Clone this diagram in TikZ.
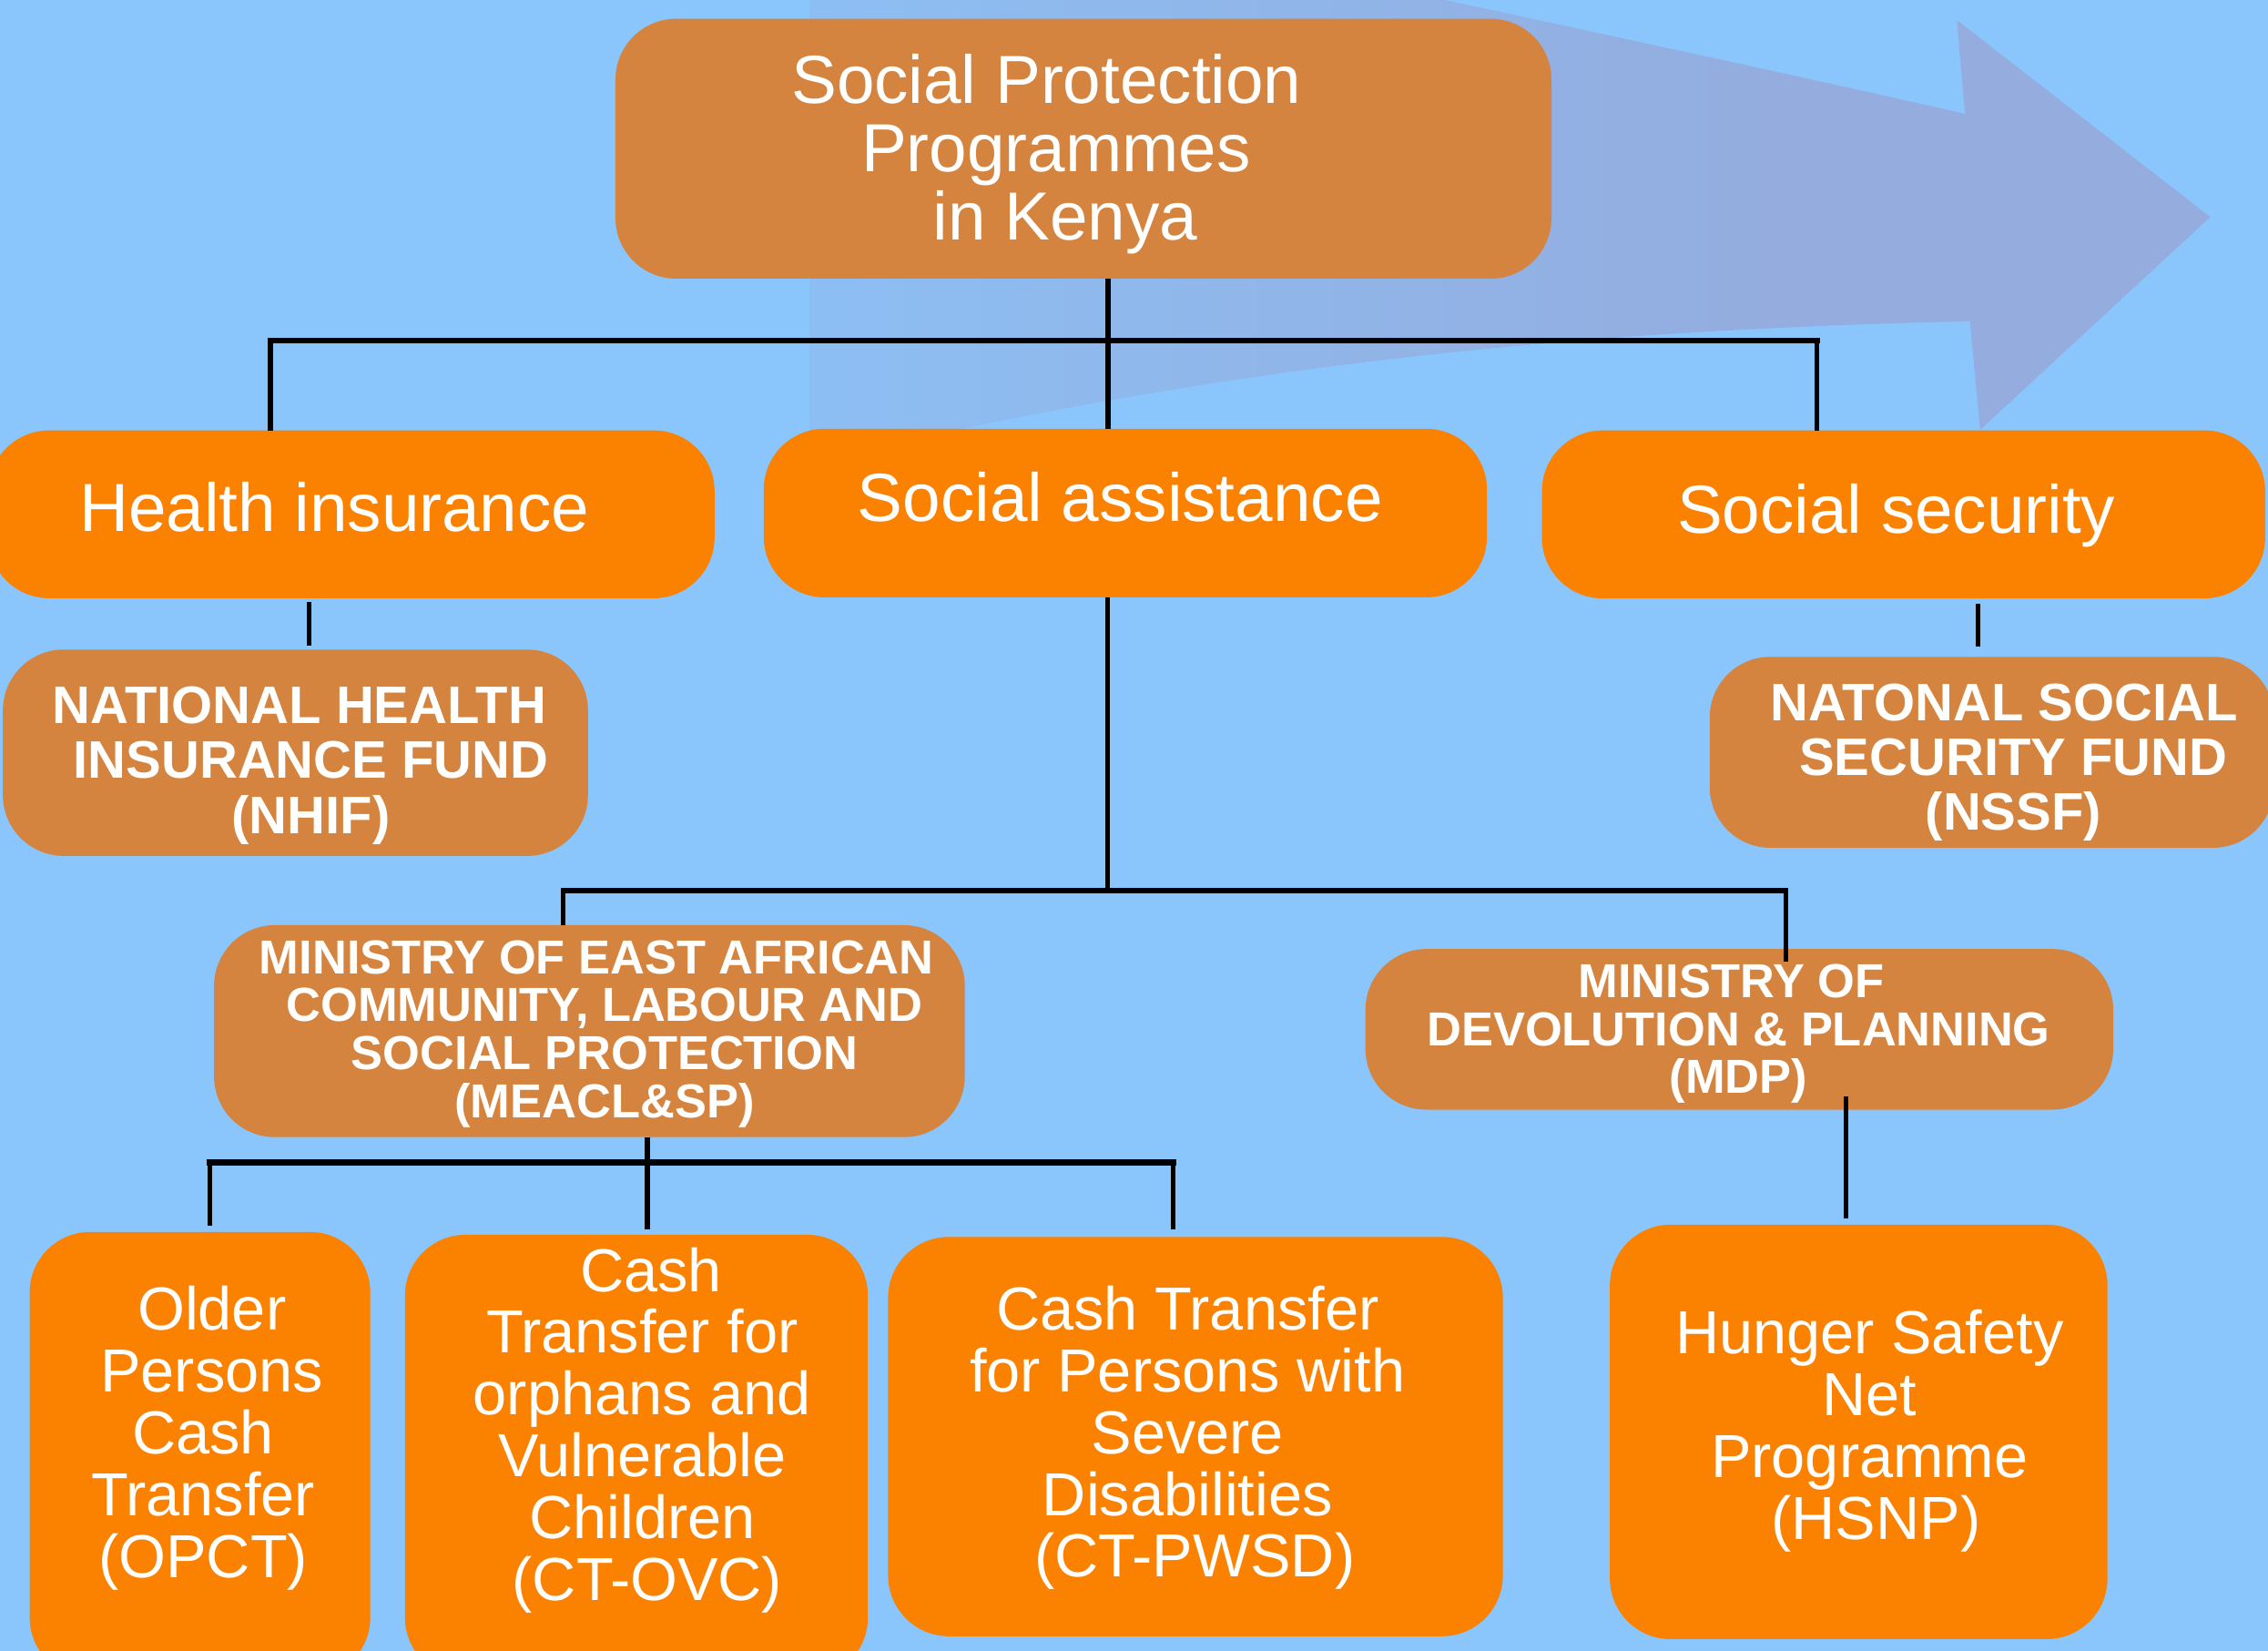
\documentclass[tikz,border=0pt]{standalone}
\usepackage{fontspec}
\setmainfont{Liberation Sans}
\usetikzlibrary{calc}
\definecolor{bgc}{RGB}{138,197,251}
\definecolor{arrowc}{RGB}{148,172,222}
\definecolor{orA}{RGB}{251,129,0}
\definecolor{orB}{RGB}{213,132,63}
\pgfdeclarehorizontalshading{arrowfade}{100bp}{color(0bp)=(bgc); color(12bp)=(bgc); color(60bp)=(arrowc); color(100bp)=(arrowc)}
\tikzset{
  boxA/.style={rectangle, rounded corners=42pt, fill=orA, draw=none, inner sep=0pt, outer sep=0pt},
  boxB/.style={rectangle, rounded corners=42pt, fill=orB, draw=none, inner sep=0pt, outer sep=0pt},
  lbl/.style={anchor=north, inner sep=0pt, outer sep=0pt, align=center, text=white},
  fA/.style={font=\fontsize{47}{47.2}\selectfont},
  fB/.style={font=\fontsize{36.5}{38}\selectfont\bfseries},
  fC/.style={font=\fontsize{33}{33.15}\selectfont\bfseries},
  fD/.style={font=\fontsize{42}{42.75}\selectfont},
  conn/.style={draw=black, line width=3.3pt},
  hconn/.style={draw=black, line width=4pt, line cap=rect}
}
\newcommand\rbox[6]{%
  \node[#6, minimum width={(#4)-(#2)}, minimum height={(#5)-(#3)}] (#1) at ({((#2)+(#4))/2},{((#3)+(#5))/2}) {};}
\newcommand\strt{\rule{0pt}{50pt}}
\begin{document}
\begin{tikzpicture}[x=1pt, y=-1pt]
\useasboundingbox (0,0) rectangle (1568,1141);
\fill[bgc] (0,0) rectangle (1568,1141);
% faded arrow
\shade[shading=arrowfade] (1353,14) -- (1528,150) -- (1369,297) -- (1362,222)
  .. controls (1100,228) and (850,250) .. (560,320) -- (560,-100)
  .. controls (800,-40) and (1100,20) .. (1358.5,78.7) -- cycle;
% boxes
\rbox{top}{425.5}{13}{1072.6}{192.6}{boxB}
\rbox{hi}{-8}{297.5}{494}{413.5}{boxA}
\rbox{sa}{528}{296.4}{1028}{412.9}{boxA}
\rbox{ss}{1066}{297.5}{1566}{413.6}{boxA}
\rbox{nhif}{2}{449}{406.5}{591.6}{boxB}
\rbox{nssf}{1182}{454}{1572}{586}{boxB}
\rbox{meacl}{148}{639.5}{667}{786}{boxB}
\rbox{mdp}{944}{656}{1461}{767}{boxB}
\rbox{opct}{20.5}{851.5}{256}{1160}{boxA}
\rbox{cto}{280}{853.5}{600}{1160}{boxA}
\rbox{ctp}{614}{855}{1039}{1131}{boxA}
\rbox{hsnp}{1113}{846.5}{1457}{1133}{boxA}
% junction coordinates
\coordinate (jA) at (766,235.5);
\coordinate (jL) at (187,235.5);
\coordinate (jR) at (1256,235.5);
\coordinate (xHN) at (213.5,430);
\coordinate (xSN) at (1367.6,430);
\coordinate (jM) at (765.5,615.5);
\coordinate (jML) at (389.5,615.5);
\coordinate (jMR) at (1234.5,615.5);
\coordinate (jB) at (447.5,803.5);
\coordinate (jBL) at (145.2,803.5);
\coordinate (jBR) at (811,803.5);
\coordinate (xMH) at (1276,800);
% connectors
\draw[conn] (top.south -| jA) -- (sa.north -| jA);
\draw[hconn] (jL) -- (jR);
\draw[conn] (jL) -- (hi.north -| jL);
\draw[conn] (jR) -- (ss.north -| jR);
\draw[conn, shorten <=2.5pt, shorten >=3pt] (hi.south -| xHN) -- (nhif.north -| xHN);
\draw[conn, shorten <=3.5pt, shorten >=7pt] (ss.south -| xSN) -- (nssf.north -| xSN);
\draw[conn] (sa.south -| jM) -- (jM);
\draw[hconn] (jML) -- (jMR);
\draw[conn] (jML) -- (meacl.north -| jML);
\draw[conn, shorten >=-9pt] (jMR) -- (mdp.north -| jMR);
\draw[conn, shorten >=4pt] (meacl.south -| jB) -- (cto.north -| jB);
\draw[hconn] (jBL) -- (jBR);
\draw[conn, shorten >=4.5pt] (jBL) -- (opct.north -| jBL);
\draw[conn, shorten >=5.5pt] (jBR) -- (ctp.north -| jBR);
\draw[conn, shorten <=-9pt, shorten >=4.5pt] (mdp.south -| xMH) -- (hsnp.north -| xMH);
% texts
\node[lbl, fA] (tTop) at (730,21.3) {\strt Social Protection\hspace*{13pt}\\Programmes\\\hspace*{13pt}in Kenya};
\node[lbl, fA] (tHI) at (231.2,317) {\strt Health insurance};
\node[lbl, fA] (tSA) at (774.4,310.4) {\strt Social assistance};
\node[lbl, fA] (tSS) at (1311,318.8) {\strt Social security};
\node[lbl, fB] (tNHIF) at (215,450) {\strt NATIONAL HEALTH\hspace*{16pt}\\INSURANCE FUND\\(NHIF)};
\node[lbl, fB] (tNSSF) at (1392,448) {\strt NATONAL SOCIAL\hspace*{13pt}\\SECURITY FUND\\(NSSF)};
\node[lbl, fC] (tMEACL) at (418,622.9) {\strt MINISTRY OF EAST AFRICAN\hspace*{11pt}\\COMMUNITY, LABOUR AND\hspace*{11pt}\\SOCIAL PROTECTION\\(MEACL\&SP)};
\node[lbl, fC] (tMDP) at (1202,639.5) {\strt MINISTRY OF\hspace*{10pt}\\DEVOLUTION \& PLANNING\\(MDP)};
\node[lbl, fD] (tOPCT) at (140.5,869.5) {\strt\hspace*{12pt}Older\\\hspace*{12pt}Persons\\Cash\\Transfer\\(OPCT)};
\node[lbl, fD] (tCTO) at (444,842.6) {\strt\hspace*{12pt}Cash\\Transfer for\\orphans and\\Vulnerable\\Children\\\hspace*{7pt}(CT-OVC)};
\node[lbl, fD] (tCTP) at (821,869.2) {\strt Cash Transfer\\for Persons with\\Severe\\Disabilities\\\hspace*{10pt}(CT-PWSD)};
\node[lbl, fD] (tHSNP) at (1292.5,885.6) {\strt Hunger Safety\\Net\\Programme\\\hspace*{9pt}(HSNP)};
\end{tikzpicture}
\end{document}
